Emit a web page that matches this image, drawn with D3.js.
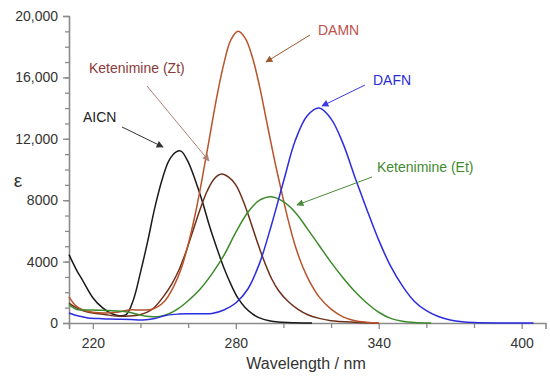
<!DOCTYPE html>
<html>
<head>
<meta charset="utf-8">
<script src="https://cdn.jsdelivr.net/npm/d3@7"></script>
<style>
  body { margin: 0; background: #fff; }
  svg { font-family: "Liberation Sans", Arial, sans-serif; }
</style>
</head>
<body>
<div id="chart"></div>
<script>
// wavelength (nm) / epsilon readings for each spectrum
var wlAICN = [210,213,216,220,224,228,231,234,237,240,243,246,249,252,255,257,260,263,266,269,272,275,278,281,284,287,290,294,298,305,312];
var epsAICN = [4450,3500,2700,1650,1000,600,480,550,1500,3300,5300,7500,9300,10600,11150,11200,10500,9300,7900,6300,4900,3600,2500,1600,1000,600,330,150,60,15,0];

var wlDAMN = [210,213,216,220,225,230,235,240,245,250,254,257,260,263,266,269,272,275,278,281,284,287,290,293,296,299,302,305,308,311,315,320,325,330,335,340];
var epsDAMN = [1700,1100,850,700,650,700,850,850,900,1400,2400,3500,5100,7100,9500,12100,14700,16900,18460,19000,18540,17300,15400,13100,10800,8700,6700,5000,3700,2700,1700,900,400,150,50,0];

var wlZt = [210,213,216,220,225,230,235,240,245,250,253,256,259,262,265,268,271,274,277,280,283,286,289,292,295,298,302,306,310,315,320,330,340];
var epsZt = [1300,1000,800,650,550,450,450,550,900,1800,2500,3400,4600,6000,7400,8600,9400,9700,9500,9000,8000,6700,5300,4000,2900,2100,1400,900,550,300,150,50,0];

var wlDAFN = [210,214,218,224,230,236,241,246,251,256,260,265,270,275,280,285,290,295,300,305,310,315,320,325,330,335,340,345,350,355,360,365,370,375,380,390,405];
var epsDAFN = [650,450,330,280,250,220,200,300,500,580,600,600,620,850,1300,2200,3900,6400,9200,11900,13500,14000,13300,11700,9500,7400,5400,3700,2400,1400,800,420,200,80,30,0,0];

var wlEt = [210,213,216,220,225,230,235,240,244,248,252,256,260,265,270,275,280,285,290,295,300,305,310,315,320,325,330,335,340,345,350,355,362];
var epsEt = [1200,900,850,850,820,780,700,520,420,420,600,950,1450,2200,3200,4400,5900,7200,8000,8230,7900,7200,6150,5050,3950,2950,2050,1300,700,300,110,30,0];

var xMajor = [220, 280, 340, 400];
var xMinor = [240, 260, 300, 320, 360, 380];
var yMajor = [0, 4000, 8000, 12000, 16000, 20000];
var yLabels = ["0", "4000", "8000", "12,000", "16,000", "20,000"];

var series = [
    { name: "AICN", wl: wlAICN, eps: epsAICN, color: "#1a1a1a" },
    { name: "Ketenimine (Zt)", wl: wlZt, eps: epsZt, color: "#6e2f1a" },
    { name: "DAMN", wl: wlDAMN, eps: epsDAMN, color: "#b8532c" },
    { name: "Ketenimine (Et)", wl: wlEt, eps: epsEt, color: "#3d8a2a" },
    { name: "DAFN", wl: wlDAFN, eps: epsDAFN, color: "#2b2be0" }
];

var width = 550, height = 379;

var svg = d3.select("#chart").append("svg")
    .attr("width", width)
    .attr("height", height);

var x = d3.scaleLinear().domain([210, 410]).range([69, 545.5]);
var y = d3.scaleLinear().domain([0, 20000]).range([323, 16]);

var axisColor = "#8a8a8a";

// y axis: major ticks with labels, minor ticks every 1000
var yAxis = svg.append("g")
    .attr("transform", "translate(69,0)")
    .call(d3.axisLeft(y).tickValues(yMajor).tickSize(6).tickPadding(5)
        .tickFormat(function(d, i) { return yLabels[i]; }));
yAxis.append("g").call(d3.axisLeft(y).tickValues(d3.range(1000, 20000, 1000)).tickSize(4).tickFormat(""))
    .select(".domain").remove();

var xAxis = svg.append("g")
    .attr("transform", "translate(0,323)")
    .call(d3.axisBottom(x).tickValues(xMajor).tickSize(6).tickPadding(9).tickFormat(d3.format("d")));
xAxis.append("g").call(d3.axisBottom(x).tickValues(xMinor).tickSize(5).tickFormat(""))
    .select(".domain").remove();

svg.selectAll(".domain").attr("stroke", axisColor).attr("stroke-width", 1.6);
svg.selectAll(".tick line").attr("stroke", axisColor).attr("stroke-width", 1.3);
svg.selectAll(".tick text").attr("fill", "#333").style("font-size", "14px");

// axis titles
svg.append("text")
    .attr("x", 306).attr("y", 369)
    .attr("text-anchor", "middle")
    .style("font-size", "16px")
    .attr("fill", "#333")
    .text("Wavelength / nm");

svg.append("text")
    .attr("x", 18).attr("y", 187)
    .attr("text-anchor", "middle")
    .style("font-size", "19px")
    .attr("fill", "#333")
    .text("ε");

// spectra
var line = d3.line()
    .x(function(d) { return x(d[0]); })
    .y(function(d) { return y(d[1]); })
    .curve(d3.curveCatmullRom.alpha(0.5));

svg.selectAll(".spec")
    .data(series)
    .enter().append("path")
    .attr("class", "spec")
    .attr("fill", "none")
    .attr("stroke", function(d) { return d.color; })
    .attr("stroke-width", 1.5)
    .attr("d", function(d) { return line(d3.zip(d.wl, d.eps)); });

// labels with arrows (positions in pixels)
var labels = [
    { text: "DAMN", tx: 318, ty: 35, color: "#c0504d", arrow: "#a0582e", x1: 310, y1: 35, x2: 266, y2: 62 },
    { text: "Ketenimine (Zt)", tx: 89, ty: 73, color: "#8b3a3a", arrow: "#b08274", x1: 147, y1: 86, x2: 209, y2: 161 },
    { text: "AICN", tx: 83, ty: 122, color: "#222", arrow: "#333", x1: 122, y1: 127, x2: 163, y2: 147 },
    { text: "DAFN", tx: 373, ty: 85, color: "#2b2bd8", arrow: "#3b3be0", x1: 365, y1: 85, x2: 322, y2: 106 },
    { text: "Ketenimine (Et)", tx: 377, ty: 172, color: "#3f8a2e", arrow: "#4a8a38", x1: 372, y1: 177, x2: 297, y2: 205 }
];

var defs = svg.append("defs");
labels.forEach(function(l, i) {
    defs.append("marker")
        .attr("id", "ah" + i)
        .attr("viewBox", "0 0 10 10")
        .attr("refX", 9).attr("refY", 5)
        .attr("markerWidth", 9).attr("markerHeight", 7)
        .attr("markerUnits", "userSpaceOnUse")
        .attr("orient", "auto")
        .append("path")
        .attr("d", "M0,0 L10,5 L0,10 z")
        .attr("fill", l.arrow);
});

svg.selectAll(".arrow")
    .data(labels)
    .enter().append("line")
    .attr("class", "arrow")
    .attr("x1", function(d) { return d.x1; })
    .attr("y1", function(d) { return d.y1; })
    .attr("x2", function(d) { return d.x2; })
    .attr("y2", function(d) { return d.y2; })
    .attr("stroke", function(d) { return d.arrow; })
    .attr("stroke-width", 1)
    .attr("marker-end", function(d, i) { return "url(#ah" + i + ")"; });

svg.selectAll(".lbl")
    .data(labels)
    .enter().append("text")
    .attr("class", "lbl")
    .attr("x", function(d) { return d.tx; })
    .attr("y", function(d) { return d.ty; })
    .attr("fill", function(d) { return d.color; })
    .style("font-size", "14px")
    .text(function(d) { return d.text; });
</script>
</body>
</html>
